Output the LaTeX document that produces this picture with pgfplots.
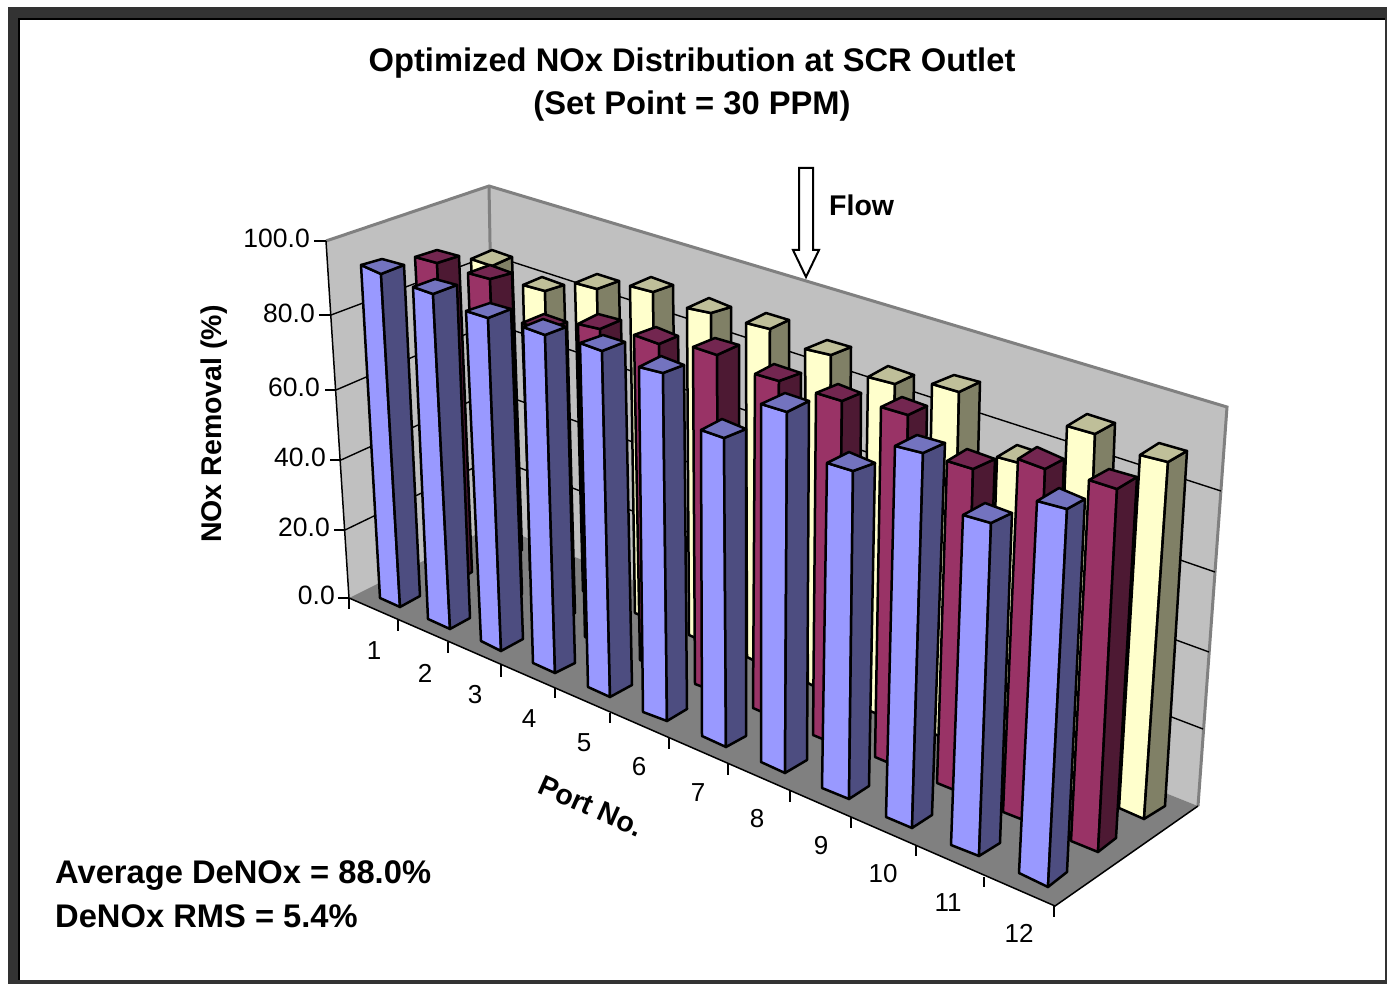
\documentclass[border=0pt]{standalone}
\usepackage{pgfplots}
\pgfplotsset{compat=1.18}
\usepackage{fontspec}
\setmainfont{Liberation Sans}
\definecolor{bf}{HTML}{9999FF}\definecolor{bs}{HTML}{4D4D80}\definecolor{bt}{HTML}{7373BF}
\definecolor{rf}{HTML}{993366}\definecolor{rs}{HTML}{4D1933}\definecolor{rt}{HTML}{732650}
\definecolor{yf}{HTML}{FFFFCC}\definecolor{ys}{HTML}{808066}\definecolor{yt}{HTML}{BFBF99}
\definecolor{wall}{HTML}{C0C0C0}\definecolor{floorc}{HTML}{808080}\definecolor{framec}{HTML}{333333}
% #1 colour prefix, #2 L #3 C #4 R #5 B (top), #6 Lb #7 Cb #8 Rb
\newcommand\barr[8]{%
 \addplot[fill=#1f,draw=black,line width=2.5pt,line join=round] coordinates {(#2) (#3) (#7) (#6)} --cycle;
 \addplot[fill=#1s,draw=black,line width=2.5pt,line join=round] coordinates {(#3) (#4) (#8) (#7)} --cycle;
 \addplot[fill=#1t,draw=black,line width=2.5pt,line join=round] coordinates {(#2) (#5) (#4) (#3)} --cycle;
}
\newcommand\poly[2]{\addplot[fill=#1,draw=none] coordinates {#2} --cycle;}
\newcommand\lin[2]{\addplot[#1] coordinates {#2};}
\begin{document}
\begin{tikzpicture}
\begin{axis}[at={(0,0)},scale only axis,width=1387pt,height=984pt,xmin=0,xmax=1387,ymin=0,ymax=984,y dir=reverse,hide axis,clip=false,no markers]
\poly{white}{(0,0) (1387,0) (1387,984) (0,984)}
\poly{framec}{(8,7) (1387,7) (1387,18) (8,18)}
\poly{framec}{(8,7) (18,7) (18,984) (8,984)}
\poly{framec}{(8,980) (1387,980) (1387,984) (8,984)}
\poly{framec}{(1385,7) (1387,7) (1387,984) (1385,984)}
\poly{black}{(18,18) (1385,18) (1385,20) (18,20)}
\poly{black}{(18,18) (20,18) (20,980) (18,980)}
% walls and floor
\poly{wall}{(326,241) (489,186) (495,525) (349,598)}
\poly{wall}{(489,186) (1227,407) (1198,806) (495,525)}
\poly{floorc}{(349,598) (495,525) (1198,806) (1055,906)}
\lin{color=floorc,line width=3pt}{(326,241) (489,186) (1227,407) (1198,806)}
\lin{color=floorc,line width=3pt}{(489,186) (495,525)}
% grid lines
\lin{black,line width=1.4pt}{(331,315) (491,255) (1221,491)}
\lin{black,line width=1.4pt}{(336,390) (492,323) (1215,572)}
\lin{black,line width=1.4pt}{(341,460) (493,391) (1209,652)}
\lin{black,line width=1.4pt}{(345,530) (494,458) (1203,729)}
% axis lines and ticks
\lin{black,line width=1.5pt}{(326,241) (349,598) (1055,906) (1198,806)}
\lin{black,line width=1.2pt}{(314,241) (326,241)}
\lin{black,line width=1.2pt}{(319,315) (331,315)}
\lin{black,line width=1.2pt}{(325,390) (336,390)}
\lin{black,line width=1.2pt}{(330,460) (341,460)}
\lin{black,line width=1.2pt}{(334,530) (345,530)}
\lin{black,line width=1.2pt}{(338,598) (349,598)}
\lin{black,line width=1.2pt}{(349,598) (349,609)}
\lin{black,line width=1.2pt}{(398,620) (398,631)}
\lin{black,line width=1.2pt}{(448,642) (448,653)}
\lin{black,line width=1.2pt}{(501,665) (501,677)}
\lin{black,line width=1.2pt}{(555,688) (555,698)}
\lin{black,line width=1.2pt}{(610,713) (610,723)}
\lin{black,line width=1.2pt}{(669,738) (669,749)}
\lin{black,line width=1.2pt}{(728,764) (728,775)}
\lin{black,line width=1.2pt}{(790,790) (790,802)}
\lin{black,line width=1.2pt}{(851,817) (851,828)}
\lin{black,line width=1.2pt}{(916,846) (916,856)}
\lin{black,line width=1.2pt}{(984,877) (984,887)}
\lin{black,line width=1.2pt}{(1054,906) (1054,917)}
% yellow row
\barr{y}{471,259}{492,266}{512,257}{492,250}{482,550}{502,559}{522,550}
\barr{y}{523,285}{545,291}{564,285}{542,277}{530,571}{552,580}{572,570}
\barr{y}{575,283}{597,289}{619,281}{597,274}{583,591}{603,601}{625,590}
\barr{y}{630,286}{653,292}{673,285}{651,277}{635,613}{657,622}{677,612}
\barr{y}{687,308}{711,313}{731,307}{709,298}{689,635}{711,645}{733,634}
\barr{y}{746,323}{770,329}{789,320}{766,313}{747,657}{769,668}{789,656}
\barr{y}{805,349}{831,355}{851,347}{827,340}{808,683}{828,694}{848,683}
\barr{y}{868,377}{895,384}{914,375}{888,366}{863,708}{887,718}{909,706}
\barr{y}{932,384}{959,392}{980,382}{954,375}{925,730}{951,741}{971,729}
\barr{y}{997,457}{1023,464}{1041,453}{1017,445}{987,755}{1013,766}{1033,754}
\barr{y}{1067,426}{1095,434}{1115,423}{1087,414}{1053,783}{1081,795}{1101,782}
\barr{y}{1140,455}{1168,462}{1187,451}{1159,443}{1119,808}{1144,819}{1165,806}
% red row
\barr{r}{415,257}{437,263}{459,256}{437,250}{432,574}{452,583}{472,572}
\barr{r}{468,273}{490,279}{512,273}{490,265}{480,595}{502,604}{522,594}
\barr{r}{522,323}{544,331}{567,322}{544,314}{533,615}{553,625}{575,613}
\barr{r}{578,324}{600,329}{621,320}{598,314}{585,637}{607,646}{627,636}
\barr{r}{634,335}{659,344}{678,336}{656,327}{640,660}{662,670}{684,658}
\barr{r}{693,347}{717,355}{739,345}{715,338}{695,684}{719,693}{739,681}
\barr{r}{755,374}{779,381}{801,373}{774,364}{753,708}{778,719}{798,708}
\barr{r}{816,393}{842,401}{861,393}{838,384}{813,735}{837,745}{859,732}
\barr{r}{881,407}{908,415}{927,406}{902,397}{875,757}{901,768}{921,755}
\barr{r}{947,461}{973,469}{995,459}{967,449}{937,783}{964,794}{983,781}
\barr{r}{1018,459}{1045,469}{1064,459}{1037,447}{1003,812}{1031,823}{1051,810}
\barr{r}{1089,480}{1117,489}{1137,477}{1109,469}{1071,841}{1098,852}{1116,838}
% blue row
\barr{b}{361,265}{381,274}{404,265}{382,259}{380,598}{400,607}{420,596}
\barr{b}{413,287}{433,294}{457,285}{435,279}{428,619}{450,629}{470,618}
\barr{b}{466,311}{488,318}{511,309}{490,303}{481,641}{501,651}{523,639}
\barr{b}{523,327}{545,335}{566,327}{543,319}{533,663}{555,673}{575,663}
\barr{b}{580,343}{602,351}{625,342}{603,335}{588,687}{610,697}{632,685}
\barr{b}{639,367}{663,373}{684,365}{661,356}{643,712}{667,721}{687,709}
\barr{b}{701,430}{724,438}{746,429}{722,419}{702,736}{726,747}{746,736}
\barr{b}{761,404}{787,412}{809,401}{785,393}{761,762}{785,773}{807,760}
\barr{b}{827,463}{853,471}{875,463}{849,452}{822,788}{849,799}{869,786}
\barr{b}{895,446}{923,453}{945,443}{917,435}{886,817}{912,828}{932,815}
\barr{b}{963,515}{991,523}{1012,513}{985,503}{951,845}{979,856}{1000,843}
\barr{b}{1037,501}{1067,509}{1085,499}{1059,488}{1019,873}{1048,887}{1067,872}
% flow arrow
\addplot[fill=white,draw=black,line width=2pt,line join=miter] coordinates {(799,168) (813,168) (813,250) (819,250) (806,277) (793,250) (799,250)} --cycle;
% texts
\node[font=\fontsize{32.7}{38}\selectfont\bfseries,anchor=center] at (axis cs:692,63) {Optimized NOx Distribution at SCR Outlet};
\node[font=\fontsize{32.7}{38}\selectfont\bfseries,anchor=center] at (axis cs:692,106) {(Set Point = 30 PPM)};
\node[font=\fontsize{28.5}{32}\selectfont\bfseries,anchor=west,inner sep=0pt] at (axis cs:829,205) {Flow};
\node[font=\fontsize{28.5}{32}\selectfont\bfseries,rotate=90,anchor=center] at (axis cs:214,424) {NOx Removal (\%)};
\node[font=\fontsize{28.5}{32}\selectfont\bfseries,rotate=-24,anchor=center] at (axis cs:591,806) {Port No.};
\node[font=\fontsize{32.7}{38}\selectfont\bfseries,anchor=west,inner sep=0pt] at (axis cs:55,876) {Average DeNOx = 88.0\%};
\node[font=\fontsize{32.7}{38}\selectfont\bfseries,anchor=west,inner sep=0pt] at (axis cs:55,916) {DeNOx RMS = 5.4\%};
\foreach \t/\xx/\yy in {100.0/310/238,80.0/315/313,60.0/320/387,40.0/326/457,20.0/330/527,0.0/335/595}{
 \edef\tmp{\noexpand\node[font=\noexpand\fontsize{26.5}{30}\noexpand\selectfont,anchor=east,inner sep=0pt] at (axis cs:\xx,\yy) {\t};}\tmp
}
\foreach \t/\xx/\yy in {1/374/651,2/425/673,3/475/695,4/529/719,5/584/743,6/639/767,7/698/793,8/757/819,9/821/846,10/883/874,11/948/903,12/1019/933}{
 \edef\tmp{\noexpand\node[font=\noexpand\fontsize{26}{30}\noexpand\selectfont,anchor=center,inner sep=0pt] at (axis cs:\xx,\yy) {\t};}\tmp
}
\end{axis}
\end{tikzpicture}
\end{document}
